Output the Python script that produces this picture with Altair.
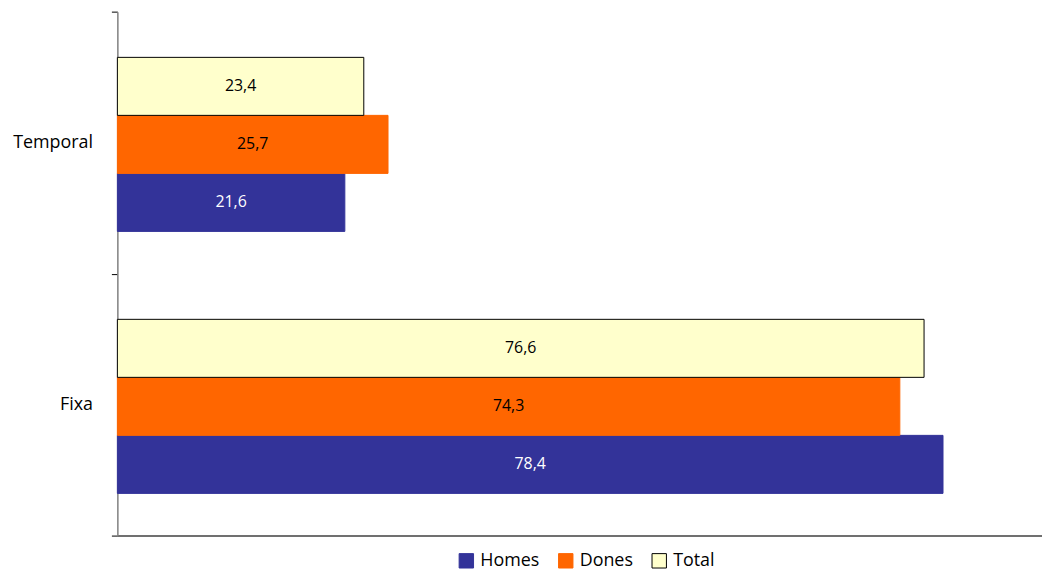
import altair as alt
import pandas as pd

categories = ["Temporal", "Fixa"]
series = ["Homes", "Dones", "Total"]
homes = [21.6, 78.4]
dones = [25.7, 74.3]
total = [23.4, 76.6]

rows = []
for i, c in enumerate(categories):
    for s, vals in zip(series, [homes, dones, total]):
        v = vals[i]
        rows.append({"cat": c, "series": s, "value": v,
                     "label": f"{v:.1f}".replace(".", ",")})
df = pd.DataFrame(rows)

FONT = "Open Sans"
colors = ["#333399", "#FF6600", "#FFFFCC"]
strokes = ["#333399", "#FF6600", "#000000"]

y_scale = alt.Scale(paddingInner=0, paddingOuter=0)
y_axis = alt.Axis(tickBand="extent", tickSize=6, labelPadding=19, grid=False,
                  labelFontSize=18, labelFont=FONT, labelColor="#000000",
                  domainColor="#808080", domainWidth=1.5,
                  tickColor="#000000", tickWidth=1)
yoff = alt.YOffset("series:N", sort=["Total", "Dones", "Homes"],
                   scale=alt.Scale(paddingInner=0, paddingOuter=0.758, align=0.52))
x_scale = alt.Scale(domain=[0, 87.8], nice=False, zero=True)
x_axis = alt.Axis(labels=False, ticks=False, grid=False,
                  domainColor="#404040", domainWidth=1.5)

leg = dict(title=None, orient="none", direction="horizontal", legendX=342, legendY=543,
           symbolType="square", symbolSize=210, symbolStrokeWidth=1, labelFontSize=18,
           labelFont=FONT, labelColor="#000000", labelOffset=5, columnPadding=16, padding=0)

bars = alt.Chart(df).mark_bar(strokeWidth=1).encode(
    x=alt.X("value:Q", title=None, scale=x_scale, axis=x_axis),
    y=alt.Y("cat:N", sort=categories, title=None, scale=y_scale, axis=y_axis),
    yOffset=yoff,
    fill=alt.Fill("series:N", scale=alt.Scale(domain=series, range=colors),
                  legend=alt.Legend(**leg)),
    stroke=alt.Stroke("series:N", scale=alt.Scale(domain=series, range=strokes),
                      legend=alt.Legend(**leg)),
)

labels = alt.Chart(df).transform_calculate(
    mid="datum.value / 2"
).mark_text(fontSize=16, font=FONT, baseline="middle", align="center").encode(
    x=alt.X("mid:Q", title=None, scale=x_scale, axis=x_axis),
    y=alt.Y("cat:N", sort=categories, title=None, scale=y_scale, axis=y_axis),
    yOffset=yoff,
    text="label:N",
    color=alt.condition(alt.datum.series == "Homes", alt.value("#FFFFFF"), alt.value("#000000")),
)

chart = alt.layer(bars, labels).properties(
    width=930, height=527, background="white",
    autosize=alt.AutoSizeParams(type="none"),
    padding={"left": 110, "top": 2, "right": 0, "bottom": 40},
).configure_view(stroke=None)

chart.save("out.html", embed_options={"renderer": "svg", "actions": False})
